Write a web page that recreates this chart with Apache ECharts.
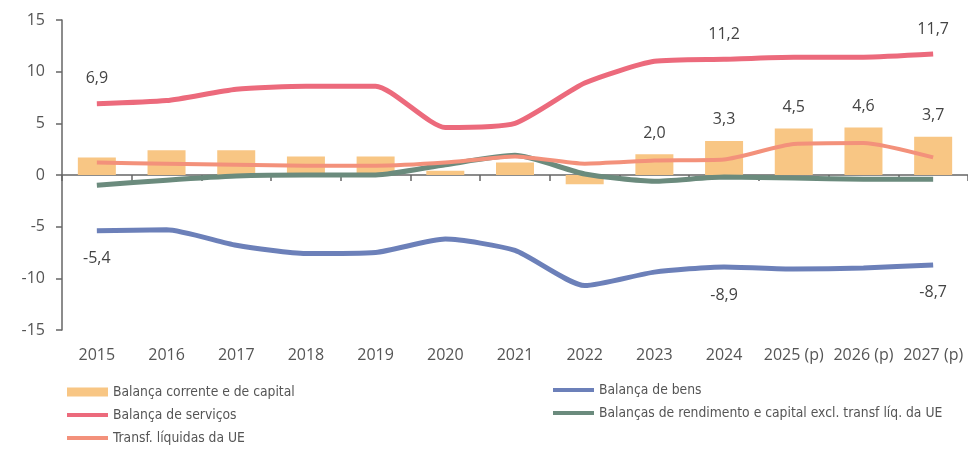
<!DOCTYPE html>
<html>
<head>
<meta charset="utf-8">
<script src="https://cdn.jsdelivr.net/npm/echarts@6/dist/echarts.min.js"></script>
<style>
  html, body { margin: 0; padding: 0; background: #fff; }
  #chart { width: 968px; height: 452px; }
</style>
</head>
<body>
<div id="chart"></div>
<script>
const years = ["2015", "2016", "2017", "2018", "2019", "2020", "2021", "2022", "2023", "2024", "2025 (p)", "2026 (p)", "2027 (p)"];

const correnteCapital = [1.7, 2.4, 2.4, 1.8, 1.8, 0.4, 1.2, -0.9, 2.0, 3.3, 4.5, 4.6, 3.7];
const servicos = [6.9, 7.2, 8.3, 8.6, 8.6, 4.6, 5.0, 8.9, 11.0, 11.2, 11.4, 11.4, 11.7];
const transfUE = [1.2, 1.1, 1.0, 0.9, 0.9, 1.2, 1.8, 1.1, 1.4, 1.5, 3.0, 3.1, 1.7];
const bens = [-5.4, -5.3, -6.8, -7.6, -7.5, -6.2, -7.3, -10.7, -9.4, -8.9, -9.1, -9.0, -8.7];
const rendimento = [-1.0, -0.5, -0.1, 0.0, 0.0, 1.0, 1.9, 0.1, -0.6, -0.2, -0.3, -0.4, -0.4];

// which points carry a value label
const correnteLabelled = [8, 9, 10, 11, 12];
const servicosLabelled = [0, 9, 12];
const bensLabelled = [0, 9, 12];

const yTicks = [-15, -10, -5, 0, 5, 10, 15];

const NAME_CORRENTE = "Balança corrente e de capital";
const NAME_SERVICOS = "Balança de serviços";
const NAME_TRANSF = "Transf. líquidas da UE";
const NAME_BENS = "Balança de bens";
const NAME_RENDIMENTO = "Balanças de rendimento e capital excl. transf líq. da UE";

const AXIS_COLOR = "#666";
const TEXT_COLOR = "#555";
const LEGEND_FONT = '"Liberation Sans Narrow", "Arial Narrow", "DejaVu Sans Condensed", sans-serif';

// legend text is a condensed face; size it so the first entry is ~182px wide
function legendFontSize() {
  const ctx = document.createElement("canvas").getContext("2d");
  ctx.font = "15px " + LEGEND_FONT;
  const w = ctx.measureText(NAME_CORRENTE).width;
  return Math.min(16, (15 * 182) / w);
}

// thin band in a 41x9 box (the empty moves keep the box size)
const LINE_ICON = "path://M0,0L0.01,0M0,2.5L41,2.5L41,6.5L0,6.5ZM41,9L40.99,9";

function formatPt(value) {
  return Number(value).toFixed(1).replace(".", ",");
}

function withLabels(values, indices, position, distance) {
  return values.map((v, i) =>
    indices.includes(i)
      ? { value: v, label: { show: true, position, distance } }
      : v,
  );
}

const labelStyle = {
  color: "#444",
  fontSize: 16,
  fontFamily: "Open Sans",
  formatter: (p) => formatPt(p.value),
};

const legendText = {
  color: TEXT_COLOR,
  fontSize: legendFontSize(),
  lineHeight: 14,
  fontFamily: LEGEND_FONT,
};

function legendItem(name, icon) {
  return { name, icon, itemStyle: { borderWidth: 0 } };
}

function lineSeries(name, values, color, width, extra) {
  return Object.assign(
    {
      name,
      type: "line",
      smooth: 0.2,
      symbol: "circle",
      symbolSize: 0,
      showSymbol: true,
      lineStyle: { width, color },
      itemStyle: { color },
      data: values,
    },
    extra,
  );
}

const chart = echarts.init(document.getElementById("chart"));

chart.setOption({
  animation: false,
  backgroundColor: "#fff",
  grid: { left: 62, right: 0, top: 20, bottom: 122 },
  legend: [
    {
      orient: "vertical",
      left: 67,
      top: 385,
      padding: 0,
      itemWidth: 41,
      itemHeight: 9,
      itemGap: 9,
      textStyle: legendText,
      data: [
        legendItem(NAME_CORRENTE, "rect"),
        legendItem(NAME_SERVICOS, LINE_ICON),
        legendItem(NAME_TRANSF, LINE_ICON),
      ],
    },
    {
      orient: "vertical",
      left: 553,
      top: 383,
      padding: 0,
      itemWidth: 41,
      itemHeight: 9,
      itemGap: 9,
      textStyle: legendText,
      data: [
        legendItem(NAME_BENS, LINE_ICON),
        legendItem(NAME_RENDIMENTO, LINE_ICON),
      ],
    },
  ],
  xAxis: [
    {
      type: "category",
      data: years,
      position: "bottom",
      axisLine: { show: false, onZero: false },
      axisTick: { show: false },
      axisLabel: {
        color: TEXT_COLOR,
        fontSize: 16,
        fontFamily: "Open Sans",
        margin: 17,
        interval: 0,
      },
    },
    {
      type: "category",
      data: years,
      position: "top",
      axisLine: { show: true, onZero: true, lineStyle: { color: AXIS_COLOR, width: 1.5 } },
      axisTick: { show: true, inside: true, length: 6, lineStyle: { color: AXIS_COLOR, width: 1.5 } },
      axisLabel: { show: false },
    },
  ],
  yAxis: {
    type: "value",
    min: yTicks[0],
    max: yTicks[yTicks.length - 1],
    interval: 5,
    splitLine: { show: false },
    axisLine: { show: true, lineStyle: { color: AXIS_COLOR, width: 1.5 } },
    axisTick: { show: true, length: 6, lineStyle: { color: AXIS_COLOR, width: 1.5 } },
    axisLabel: {
      color: TEXT_COLOR,
      fontSize: 16,
      fontFamily: "Open Sans",
      margin: 17,
    },
  },
  series: [
    {
      name: NAME_CORRENTE,
      type: "bar",
      barWidth: 38,
      itemStyle: { color: "#f8c684" },
      label: labelStyle,
      data: withLabels(correnteCapital, correnteLabelled, "top", 13),
    },
    lineSeries(NAME_RENDIMENTO, rendimento, "#6b8b7d", 5),
    lineSeries(NAME_TRANSF, transfUE, "#f3917b", 4),
    lineSeries(NAME_BENS, withLabels(bens, bensLabelled, "bottom", 20), "#6c80b9", 5, {
      label: labelStyle,
    }),
    lineSeries(NAME_SERVICOS, withLabels(servicos, servicosLabelled, "top", 17), "#ec6a7c", 5, {
      label: labelStyle,
    }),
  ],
});
</script>
</body>
</html>
